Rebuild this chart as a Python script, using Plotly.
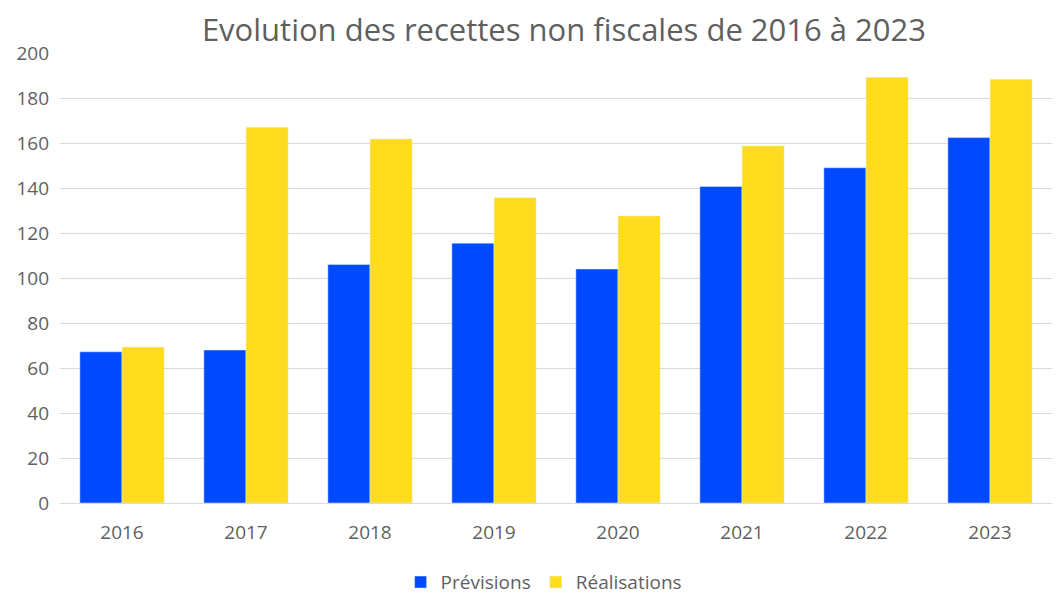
import plotly.graph_objects as go

years = ['2016', '2017', '2018', '2019', '2020', '2021', '2022', '2023']
previsions = [67.2, 68.0, 106.0, 115.5, 104.0, 140.7, 149.0, 162.4]
realisations = [69.3, 167.0, 161.8, 135.7, 127.6, 158.7, 189.2, 188.3]

fig = go.Figure()
fig.add_trace(go.Bar(x=years, y=previsions, name='Prévisions', marker_color='#0049FF'))
fig.add_trace(go.Bar(x=years, y=realisations, name='Réalisations', marker_color='#FFDC1E'))

# page body has an 8px margin, so margins are shifted to land where the reference is
fig.update_layout(
    width=1063, height=612,
    margin=dict(l=52, r=19, t=45, b=117),
    paper_bgcolor='white', plot_bgcolor='white',
    barmode='group', bargap=0.32, bargroupgap=0,
    font=dict(family='Open Sans', size=19, color='#5f5f5f'),
    title=dict(text='Evolution des recettes non fiscales de 2016 à 2023',
               x=0.523, xanchor='center', y=0.964, yanchor='middle',
               font=dict(family='Open Sans', size=31, color='#5f5f5f')),
    legend=dict(orientation='h', x=0.488, xanchor='center', y=-0.176, yanchor='middle',
                font=dict(size=19, color='#5f5f5f'), itemwidth=30),
    showlegend=True,
)
fig.update_xaxes(showgrid=False, showline=True, linecolor='#d9d9d9', ticks='',
                 tickfont=dict(size=19), ticklabelstandoff=12)
fig.update_yaxes(range=[0, 200], dtick=20, showgrid=True, gridcolor='#d9d9d9', zeroline=False,
                 ticks='', tickfont=dict(size=19), ticklabelstandoff=10, automargin=False)

fig.write_html('out.html')
